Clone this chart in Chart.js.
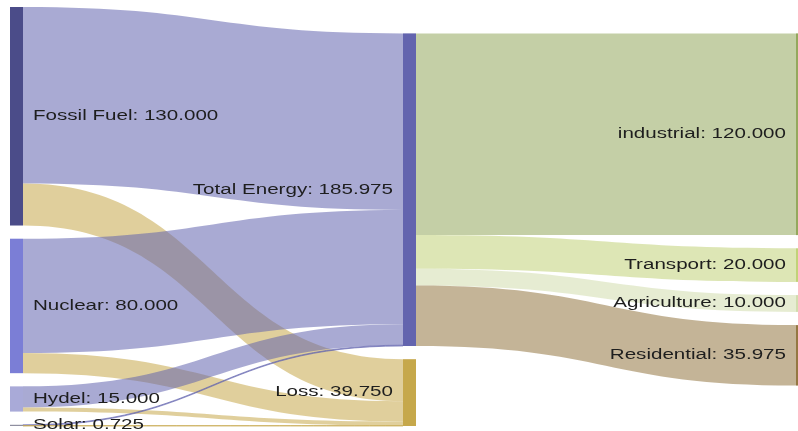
<!DOCTYPE html>
<html>
<head>
<meta charset="utf-8">
<script src="https://cdn.jsdelivr.net/npm/chart.js@4.4.0/dist/chart.umd.min.js"></script>
<style>
  html, body { margin: 0; padding: 0; background: #fff; }
  #wrap { width: 798px; height: 431px; position: relative; }
</style>
</head>
<body>
<div id="wrap"><canvas id="myChart"></canvas></div>
<script>
(function() {
    'use strict';

    // nodes
    const nodeNames = ['Fossil Fuel', 'Nuclear', 'Hydel', 'Solar', 'Total Energy', 'Loss',
                       'industrial', 'Transport', 'Agriculture', 'Residential'];
    const nodeColumns = [0, 0, 0, 0, 1, 1, 2, 2, 2, 2];
    const nodeColors = ['#4b4c89', '#7b7ed6', '#a9aad8', '#8f8fa0', '#6364ae', '#c6a84b',
                        '#94a85d', '#c1d278', '#d1dcad', '#947742'];

    // flows
    const linkFrom = ['Fossil Fuel', 'Fossil Fuel', 'Nuclear', 'Nuclear', 'Hydel', 'Hydel', 'Solar', 'Solar',
                      'Total Energy', 'Total Energy', 'Total Energy', 'Total Energy'];
    const linkTo = ['Total Energy', 'Loss', 'Total Energy', 'Loss', 'Total Energy', 'Loss', 'Total Energy', 'Loss',
                    'industrial', 'Transport', 'Agriculture', 'Residential'];
    const linkValues = [105, 25, 68, 12, 12.5, 2.5, 0.475, 0.25, 120, 20, 10, 35.975];

    const NODE_PAD = 7.85;   // gap between nodes, in value units
    const NODE_W = 13;
    const FLOW_ALPHA = 0.55;

    function rgba(hex, a) {
        const n = parseInt(hex.slice(1), 16);
        return 'rgba(' + (n >> 16) + ',' + ((n >> 8) & 255) + ',' + (n & 255) + ',' + a + ')';
    }

    // simple sankey layout in value units
    const nodes = nodeNames.map((name, i) => ({
        name: name, col: nodeColumns[i], color: nodeColors[i],
        inV: 0, outV: 0, inLinks: [], outLinks: []
    }));
    const byName = {};
    nodes.forEach(n => byName[n.name] = n);
    const links = linkValues.map((v, i) => ({ source: byName[linkFrom[i]], target: byName[linkTo[i]], value: v }));
    links.forEach(l => {
        l.source.outV += l.value; l.target.inV += l.value;
        l.source.outLinks.push(l); l.target.inLinks.push(l);
    });
    nodes.forEach(n => n.value = Math.max(n.inV, n.outV));

    const cols = [];
    nodes.forEach(n => (cols[n.col] = cols[n.col] || []).push(n));
    const extent = Math.max(...cols.map(c => c.reduce((s, n) => s + n.value, 0) + (c.length - 1) * NODE_PAD));

    cols.forEach((col, ci) => {
        if (ci === 0) {
            let y = 0;
            col.forEach(n => { n.y0 = y; n.y1 = y + n.value; y = n.y1 + NODE_PAD; });
        } else {
            col.forEach(n => {
                let s = 0, w = 0;
                n.inLinks.forEach(l => { s += (l.sy0 + l.value / 2) * l.value; w += l.value; });
                n.y0 = s / w - n.value / 2;
                n.y1 = n.y0 + n.value;
            });
            let y = 0;
            col.forEach(n => { if (n.y0 < y) { n.y0 = y; n.y1 = y + n.value; } y = n.y1 + NODE_PAD; });
            let yb = extent;
            for (let i = col.length - 1; i >= 0; i--) {
                const n = col[i];
                if (n.y1 > yb) { n.y1 = yb; n.y0 = yb - n.value; }
                yb = n.y0 - NODE_PAD;
            }
        }
        col.forEach(n => {
            let y = n.y0;
            n.outLinks.forEach(l => { l.sy0 = y; y += l.value; });
        });
    });
    nodes.forEach(n => {
        let y = n.y0;
        n.inLinks.forEach(l => { l.ty0 = y; y += l.value; });
    });

    const sankeyPlugin = {
        id: 'sankeyDraw',
        afterDatasetsDraw(chart) {
            const ctx = chart.ctx;
            const xs = chart.scales.x, ys = chart.scales.y;
            const px = c => xs.getPixelForValue(c);
            const py = v => ys.getPixelForValue(v);

            ctx.save();
            // flows
            links.forEach(l => {
                const x0 = px(l.source.col) + NODE_W, x1 = px(l.target.col);
                const xm = (x0 + x1) / 2;
                const a0 = py(l.sy0), a1 = py(l.sy0 + l.value);
                const b0 = py(l.ty0), b1 = py(l.ty0 + l.value);
                ctx.beginPath();
                ctx.moveTo(x0, a0);
                ctx.bezierCurveTo(xm, a0, xm, b0, x1, b0);
                ctx.lineTo(x1, b1);
                ctx.bezierCurveTo(xm, b1, xm, a1, x0, a1);
                ctx.closePath();
                ctx.fillStyle = rgba(l.target.color, FLOW_ALPHA);
                ctx.fill();
                if (b1 - b0 < 1.5) {
                    ctx.strokeStyle = rgba(l.target.color, 0.8);
                    ctx.lineWidth = 0.8;
                    ctx.stroke();
                }
            });
            // nodes
            nodes.forEach(n => {
                const top = py(n.y0), h = Math.max(1.2, py(n.y1) - top);
                ctx.fillStyle = n.color;
                ctx.fillRect(px(n.col), top, NODE_W, h);
            });
            // labels
            ctx.font = '14px "Liberation Sans", Arial, sans-serif';
            ctx.fillStyle = '#1e1e1e';
            ctx.textBaseline = 'middle';
            nodes.forEach(n => {
                const text = n.name + ': ' + n.value.toFixed(3);
                const cy = (py(n.y0) + py(n.y1)) / 2;
                ctx.save();
                if (n.col === 0) {
                    ctx.translate(px(n.col) + NODE_W + 10, cy);
                    ctx.textAlign = 'left';
                } else {
                    ctx.translate(px(n.col) - 10, cy);
                    ctx.textAlign = 'right';
                }
                ctx.scale(1.47, 1);
                ctx.fillText(text, 0, 0);
                ctx.restore();
            });
            ctx.restore();
        }
    };

    const ctx = document.getElementById('myChart');

    new Chart(ctx, {
        type: 'scatter',
        data: { datasets: [{ data: [] }] },
        options: {
            responsive: true,
            maintainAspectRatio: false,
            animation: false,
            layout: { padding: { left: 10, right: 2, top: 7, bottom: 5 } },
            plugins: { legend: { display: false }, tooltip: { enabled: false } },
            scales: {
                x: { type: 'linear', min: 0, max: 2, display: false },
                y: { type: 'linear', min: 0, max: extent, reverse: true, display: false }
            }
        },
        plugins: [sankeyPlugin]
    });

})();
</script>
</body>
</html>
